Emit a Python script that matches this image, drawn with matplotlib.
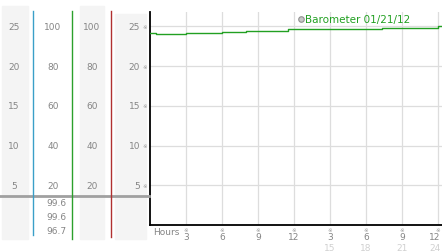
import matplotlib
matplotlib.use("Agg")
import matplotlib.pyplot as plt
from matplotlib.patches import Rectangle
from matplotlib.lines import Line2D
from matplotlib.transforms import blended_transform_factory

# data
hours = [0, 0.5, 3, 6, 8, 11.5, 19.3, 24, 24.33]
baro = [24.21, 24.09, 24.21, 24.34, 24.41, 24.63, 24.84, 25.0, 25.0]
y_ticks = [25, 20, 15, 10, 5]
pct_ticks = [100, 80, 60, 40, 20]
x_ticks = [3, 6, 9, 12, 15, 18, 21, 24]
x_labels = ["3", "6", "9", "12", "3", "6", "9", "12"]
x_labels2 = ["", "", "", "", "15", "18", "21", "24"]
readings = ["99.6", "99.6", "96.7"]
legend_label = "Barometer 01/21/12"

W, H = 442, 253
fig = plt.figure(figsize=(W / 100, H / 100), dpi=100)
fig.patch.set_facecolor("white")

def fx(p):
    return p / W

def fy(p):
    return 1 - p / H

# main plot area
ax = fig.add_axes([fx(150), fy(226), fx(442) - fx(150), fy(13) - fy(226)])
ax.step(hours, baro, where="post", color="#22a022", lw=1.0, zorder=3)
ax.set_xlim(0, 24.33)
ax.set_ylim(0, 26.8)
ax.set_xticks(x_ticks)
ax.set_yticks(y_ticks)
ax.grid(True, color="#dddddd", lw=0.9)
ax.tick_params(length=0, labelbottom=False, labelleft=False)
for s in ["top", "right"]:
    ax.spines[s].set_visible(False)
ax.spines["left"].set_color("black")
ax.spines["bottom"].set_color("black")
ax.spines["left"].set_linewidth(1.3)
ax.spines["bottom"].set_linewidth(1.3)

txt = dict(fontsize=6.5, color="#858585", family="DejaVu Sans")
xb = blended_transform_factory(ax.transData, ax.transAxes)
for x, l1, l2 in zip(x_ticks, x_labels, x_labels2):
    # last label sits against the right edge, nudge it in a little
    xl = x if x < 24 else x - 0.25
    ax.text(x, -0.022, "※", transform=xb, ha="center", va="center",
            fontsize=4, color="#999999", clip_on=False)
    ax.text(xl, -0.056, l1, transform=xb, ha="center", va="center",
            clip_on=False, **txt)
    if l2:
        ax.text(xl, -0.105, l2, transform=xb, ha="center", va="center",
                fontsize=6.5, color="#d0d0d0", clip_on=False)
ax.text(0.012, -0.03, "Hours", transform=ax.transAxes, ha="left", va="center",
        clip_on=False, **txt)

# legend
ax.plot([0.517], [0.966], "o", transform=ax.transAxes, ms=4, mfc="#c8c8c8",
        mec="#909090", mew=0.8, clip_on=False)
ax.text(0.53, 0.966, legend_label, transform=ax.transAxes, ha="left",
        va="center", fontsize=7.5, color="#22a022")

# left columns (background strips)
for x0, x1, top in [(2, 28, 7), (80, 104, 7), (115, 146, 15)]:
    fig.add_artist(Rectangle((fx(x0), fy(240)), fx(x1) - fx(x0), fy(top) - fy(240),
                             transform=fig.transFigure, color="#f4f4f4", zorder=0))

# coloured separators
for x, col, bot in [(33, "#3a9fc8", 236), (72, "#2ca02c", 240), (111, "#b03030", 238)]:
    fig.add_artist(Line2D([fx(x), fx(x)], [fy(12), fy(bot)], transform=fig.transFigure,
                          color=col, lw=1.0, zorder=2))

# horizontal base line of the side columns
fig.add_artist(Line2D([0, fx(149)], [fy(197), fy(197)], transform=fig.transFigure,
                      color="#a0a0a0", lw=2, zorder=1))

yb = blended_transform_factory(fig.transFigure, ax.transData)
for v, p in zip(y_ticks, pct_ticks):
    fig.text(fx(14), v, str(v), transform=yb, ha="center", va="center", **txt)
    fig.text(fx(53), v, str(p), transform=yb, ha="center", va="center", **txt)
    fig.text(fx(92), v, str(p), transform=yb, ha="center", va="center", **txt)
    fig.text(fx(140), v, str(v), transform=yb, ha="right", va="center", **txt)
    fig.text(fx(145), v, "※", transform=yb, ha="center", va="center",
             fontsize=4, color="#999999")

for i, r in enumerate(readings):
    fig.text(fx(56), fy(204 + 14 * i), r, ha="center", va="center", **txt)

fig.savefig("out.png", dpi=100)
